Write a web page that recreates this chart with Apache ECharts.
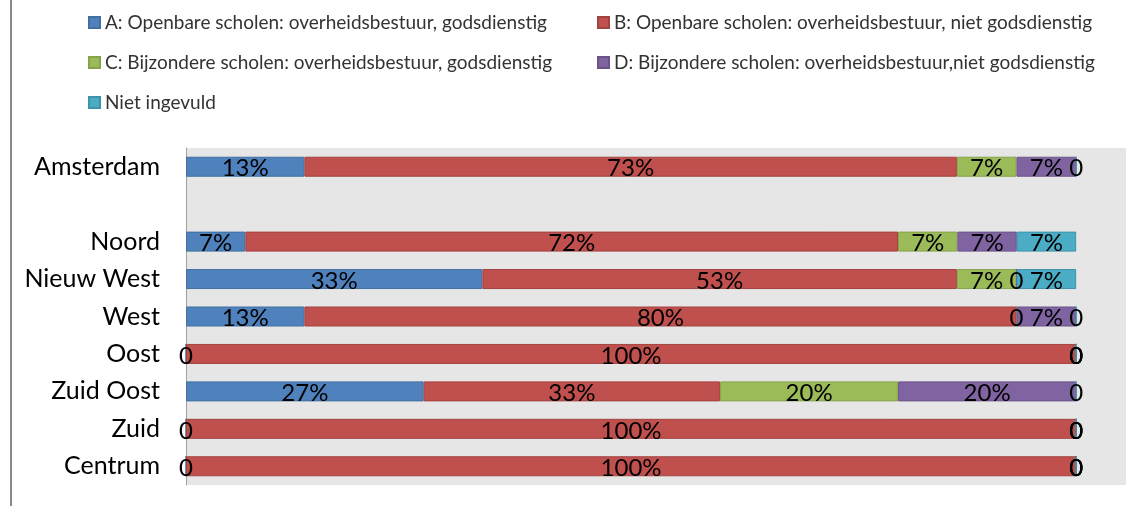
<!DOCTYPE html>
<html>
<head>
<meta charset="utf-8">
<script src="https://cdn.jsdelivr.net/npm/echarts@6/dist/echarts.min.js"></script>
<style>
html,body{margin:0;padding:0;background:#fff;}
#chart{width:1126px;height:506px;}
</style>
</head>
<body>
<div id="chart"></div>
<script>
// Categories (top to bottom); the empty one is the gap row
const categories = ['Amsterdam', '', 'Noord', 'Nieuw West', 'West', 'Oost', 'Zuid Oost', 'Zuid', 'Centrum'];

const seriesNames = [
  'A: Openbare scholen: overheidsbestuur, godsdienstig',
  'B: Openbare scholen: overheidsbestuur, niet godsdienstig',
  'C: Bijzondere scholen: overheidsbestuur, godsdienstig',
  'D: Bijzondere scholen: overheidsbestuur,niet godsdienstig',
  'Niet ingevuld'
];

// Percent values per series (null = gap row)
const valuesA = [13.3, null, 6.55, 33.3, 13.3, 0, 26.7, 0, 0];
const valuesB = [73.3, null, 72, 53.3, 80, 100, 33.3, 100, 100];
const valuesC = [6.7, null, 6.55, 6.7, 0, 0, 20, 0, 0];
const valuesD = [6.7, null, 6.55, 0, 6.7, 0, 20, 0, 0];
const valuesE = [0, null, 6.55, 6.7, 0, 0, 0, 0, 0];

const allValues = [valuesA, valuesB, valuesC, valuesD, valuesE];
const colors = ['#4F81BD', '#C0504D', '#9BBB59', '#8064A2', '#4BACC6'];
const borders = ['#41709f', '#a34341', '#86a34b', '#6c5489', '#3e93aa'];

// 100% stacking: share of each category's total
const totals = categories.map((c, i) => allValues.reduce((s, arr) => s + (arr[i] || 0), 0));

const series = allValues.map((arr, k) => ({
  name: seriesNames[k],
  type: 'bar',
  stack: 'total',
  barWidth: 20,
  itemStyle: { color: colors[k], borderColor: borders[k], borderWidth: 1 },
  label: {
    show: true,
    position: 'inside',
    color: '#000',
    fontFamily: 'Lato',
    fontSize: 24,
    offset: [0, 2],
    formatter: p => (p.data.raw === 0 ? '0' : Math.round(p.data.raw) + '%')
  },
  data: arr.map((v, i) => v === null ? { value: null, raw: null } : { value: v / totals[i] * 100, raw: v })
}));

const chart = echarts.init(document.getElementById('chart'));
chart.setOption({
  animation: false,
  backgroundColor: '#fff',
  grid: { left: 186, right: 0, top: 148, bottom: 21, show: true, backgroundColor: '#e6e6e6', borderWidth: 0 },
  legend: [
    {
      data: [seriesNames[0], seriesNames[2], seriesNames[4]],
      orient: 'vertical', left: 83, top: 8,
      itemWidth: 11, itemHeight: 11, icon: 'rect', itemGap: 21,
      textStyle: { fontFamily: 'Lato', fontSize: 19, color: '#333' }
    },
    {
      data: [seriesNames[1], seriesNames[3]],
      orient: 'vertical', left: 592, top: 8,
      itemWidth: 11, itemHeight: 11, icon: 'rect', itemGap: 21,
      textStyle: { fontFamily: 'Lato', fontSize: 19, color: '#333' }
    }
  ],
  xAxis: { type: 'value', min: 0, max: 105.6, show: false, splitLine: { show: false } },
  yAxis: {
    type: 'category', data: categories, inverse: true,
    axisLine: { show: true, lineStyle: { color: '#a0a0a0', width: 1 } },
    axisTick: { show: false },
    axisLabel: { fontFamily: 'Lato', fontSize: 25, color: '#000', margin: 26 }
  },
  graphic: [
    { type: 'line', shape: { x1: 11, y1: 0, x2: 11, y2: 506 }, style: { stroke: '#8a8a8a', lineWidth: 2 } }
  ],
  series: series
});
</script>
</body>
</html>
